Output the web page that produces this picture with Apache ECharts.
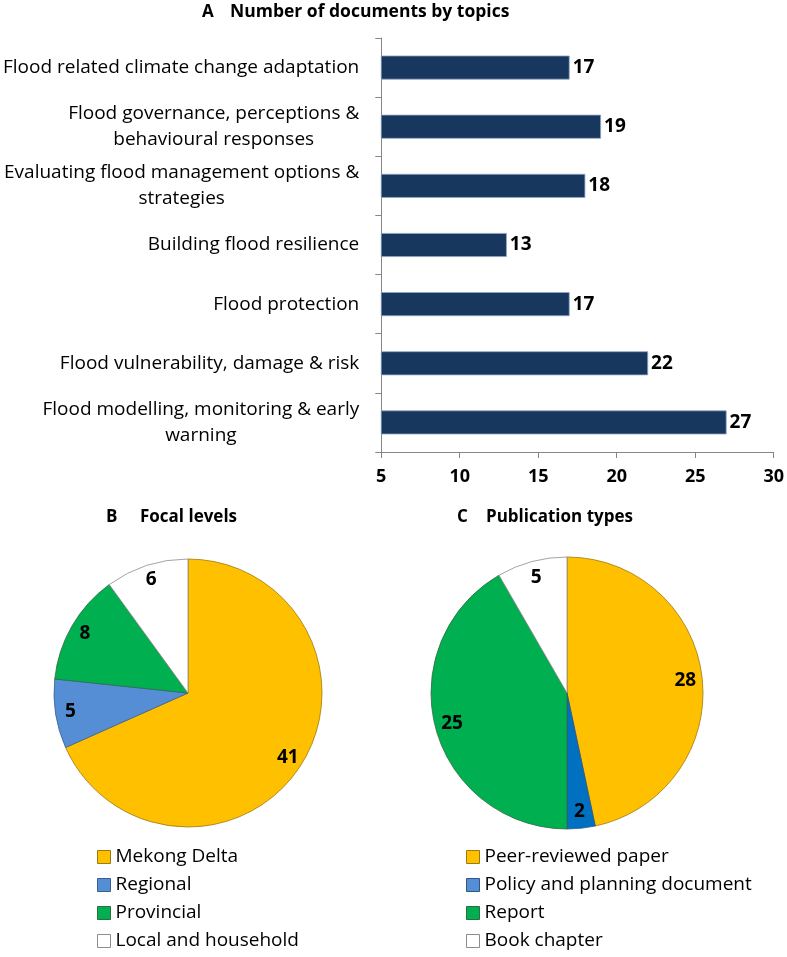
<!DOCTYPE html>
<html><head><meta charset="utf-8">
<script src="https://cdn.jsdelivr.net/npm/echarts@6/dist/echarts.min.js"></script>
<style>html,body{margin:0;padding:0;background:#fff}#c{width:787px;height:957px}</style>
</head><body><div id="c"></div>
<script>
// ---- data ----
const topics = [
  'Flood related climate change adaptation',
  'Flood governance, perceptions &\nbehavioural responses',
  'Evaluating flood management options &\nstrategies',
  'Building flood resilience',
  'Flood protection',
  'Flood vulnerability, damage & risk',
  'Flood modelling, monitoring & early\nwarning'
];
const topicCounts = [17, 19, 18, 13, 17, 22, 27];
const xMin = 5, xMax = 30, xStep = 5;

const focalNames = ['Mekong Delta', 'Regional', 'Provincial', 'Local and household'];
const focalCounts = [41, 5, 8, 6];

const pubNames = ['Peer-reviewed paper', 'Policy and planning document', 'Report', 'Book chapter'];
const pubCounts = [28, 2, 25, 5];

// ---- styles ----
const FONT = '"Open Sans", "Noto Sans", sans-serif';
const focalColors = ['#FFC000', '#558ED5', '#00B050', '#FFFFFF'];
const focalBorders = ['#9C7A12', '#3C5F92', '#2E6B43', '#8C8C8C'];
const pubColors = ['#FFC000', '#0070C0', '#00B050', '#FFFFFF'];
const pubBorders = ['#9C7A12', '#2F5687', '#2E6B43', '#8C8C8C'];
const pubLegendColors = ['#FFC000', '#558ED5', '#00B050', '#FFFFFF'];

function pieData(names, vals, colors, borders) {
  return names.map((n, i) => ({
    name: n, value: vals[i],
    itemStyle: { color: colors[i], borderColor: borders[i], borderWidth: 0.8 }
  }));
}
function overlayData(names, vals) {
  return names.map((n, i) => ({ name: n, value: vals[i] }));
}
function legendData(names, colors, borders) {
  return names.map((n, i) => ({
    name: n, icon: 'rect',
    itemStyle: { color: colors[i], borderColor: borders[i], borderWidth: 1 }
  }));
}

const chart = echarts.init(document.getElementById('c'), null, { renderer: 'canvas' });

const titleStyle = { fontFamily: FONT, fontWeight: 'bold', fontSize: 17, color: '#000', lineHeight: 20 };
const valueLabel = { fontFamily: FONT, fontWeight: 'bold', fontSize: 19, color: '#000' };

const option = {
  backgroundColor: '#fff',
  animation: false,
  title: [
    { text: 'A', left: 202, top: 2, padding: 0, textStyle: titleStyle },
    { text: 'Number of documents by topics', left: 230, top: 2, padding: 0, textStyle: { ...titleStyle, fontSize: 17.5 } },
    { text: 'B', left: 106, top: 507, padding: 0, textStyle: titleStyle },
    { text: 'Focal levels', left: 140, top: 507, padding: 0, textStyle: titleStyle },
    { text: 'C', left: 457, top: 507, padding: 0, textStyle: titleStyle },
    { text: 'Publication types', left: 486, top: 507, padding: 0, textStyle: titleStyle }
  ],
  grid: { left: 381, top: 38, right: 10, bottom: 505, containLabel: false },
  xAxis: {
    type: 'value', min: xMin, max: xMax, interval: xStep,
    splitLine: { show: false },
    axisLine: { show: true, lineStyle: { color: '#868686', width: 1 } },
    axisTick: { show: true, length: 6, lineStyle: { color: '#868686' } },
    axisLabel: { margin: 16, fontFamily: FONT, fontWeight: 'bold', fontSize: 18, color: '#000' }
  },
  yAxis: {
    type: 'category', data: topics, inverse: true,
    axisLine: { show: true, lineStyle: { color: '#868686', width: 1 } },
    axisTick: { show: true, length: 6, lineStyle: { color: '#868686' } },
    axisLabel: {
      margin: 22, align: 'right', color: '#000', fontFamily: FONT, fontSize: 19, lineHeight: 26,
      formatter: function (v) {
        return v.split('\n').map(l => '{c|' + l + '}').join('\n');
      },
      rich: {
        c: { fontFamily: FONT, fontSize: 19, color: '#000', lineHeight: 26, align: 'center' }
      }
    }
  },
  legend: [
    {
      orient: 'vertical', left: 97, top: 847, padding: 0, itemWidth: 13, itemHeight: 13, itemGap: 8,
      selectedMode: false, icon: 'rect',
      textStyle: { fontFamily: FONT, fontSize: 19, color: '#000', lineHeight: 20 },
      data: legendData(focalNames, focalColors, focalBorders)
    },
    {
      orient: 'vertical', left: 466, top: 847, padding: 0, itemWidth: 13, itemHeight: 13, itemGap: 8,
      selectedMode: false, icon: 'rect',
      textStyle: { fontFamily: FONT, fontSize: 19, color: '#000', lineHeight: 20 },
      data: legendData(pubNames, pubLegendColors, pubBorders)
    }
  ],
  series: [
    {
      type: 'bar', data: topicCounts, barWidth: 24,
      itemStyle: { color: '#17375E', borderColor: '#8FA6C4', borderWidth: 0.8 },
      label: { show: true, position: 'right', distance: 3, ...valueLabel },
      emphasis: { disabled: true }
    },
    {
      type: 'pie', center: [188, 693], radius: [0, 134], startAngle: 90, clockwise: true,
      label: { show: false }, labelLine: { show: false }, emphasis: { disabled: true }, silent: true,
      data: pieData(focalNames, focalCounts, focalColors, focalBorders)
    },
    {
      type: 'pie', center: [188, 693], radius: [98, 134], startAngle: 90, clockwise: true,
      itemStyle: { color: 'rgba(0,0,0,0)', borderWidth: 0 },
      label: { show: true, position: 'inside', formatter: '{c}', ...valueLabel },
      labelLine: { show: false }, emphasis: { disabled: true }, silent: true,
      data: overlayData(focalNames, focalCounts)
    },
    {
      type: 'pie', center: [567, 693], radius: [0, 136], startAngle: 90, clockwise: true,
      label: { show: false }, labelLine: { show: false }, emphasis: { disabled: true }, silent: true,
      data: pieData(pubNames, pubCounts, pubColors, pubBorders)
    },
    {
      type: 'pie', center: [567, 693], radius: [96, 136], startAngle: 90, clockwise: true,
      itemStyle: { color: 'rgba(0,0,0,0)', borderWidth: 0 },
      label: { show: true, position: 'inside', formatter: '{c}', ...valueLabel },
      labelLine: { show: false }, emphasis: { disabled: true }, silent: true,
      data: overlayData(pubNames, pubCounts)
    }
  ]
};
chart.setOption(option);
</script>
</body></html>
